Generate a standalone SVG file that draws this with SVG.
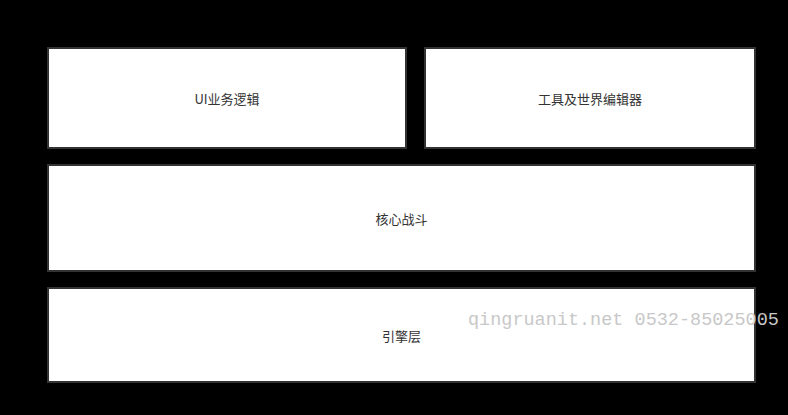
<svg xmlns="http://www.w3.org/2000/svg" width="788" height="415" viewBox="0 0 788 415">
<style>
.box{fill:#ffffff;stroke:#333333;stroke-width:2}
.lbl{font-family:"Noto Sans CJK SC","Noto Sans",sans-serif;font-size:13px;fill:#333333;text-anchor:middle;dominant-baseline:central}
.wm{font-family:"Liberation Mono","DejaVu Sans Mono",monospace;font-size:18.5px;fill:#c8c8c8}
</style>
<rect x="0" y="0" width="788" height="415" fill="#000000"/>
<g id="ui">
<rect class="box" x="48" y="48" width="358" height="100"/>
<text class="lbl" x="227" y="98">UI业务逻辑</text>
</g>
<g id="tools">
<rect class="box" x="425" y="48" width="330" height="100"/>
<text class="lbl" x="590" y="98">工具及世界编辑器</text>
</g>
<g id="core">
<rect class="box" x="48" y="165" width="707" height="106"/>
<text class="lbl" x="401.5" y="218">核心战斗</text>
</g>
<g id="engine">
<rect class="box" x="48" y="288" width="707" height="94"/>
<text class="lbl" x="401.5" y="335">引擎层</text>
</g>
<g id="connectors"></g>
<text class="wm" x="468" y="325">qingruanit.net 0532-85025005</text>
</svg>
